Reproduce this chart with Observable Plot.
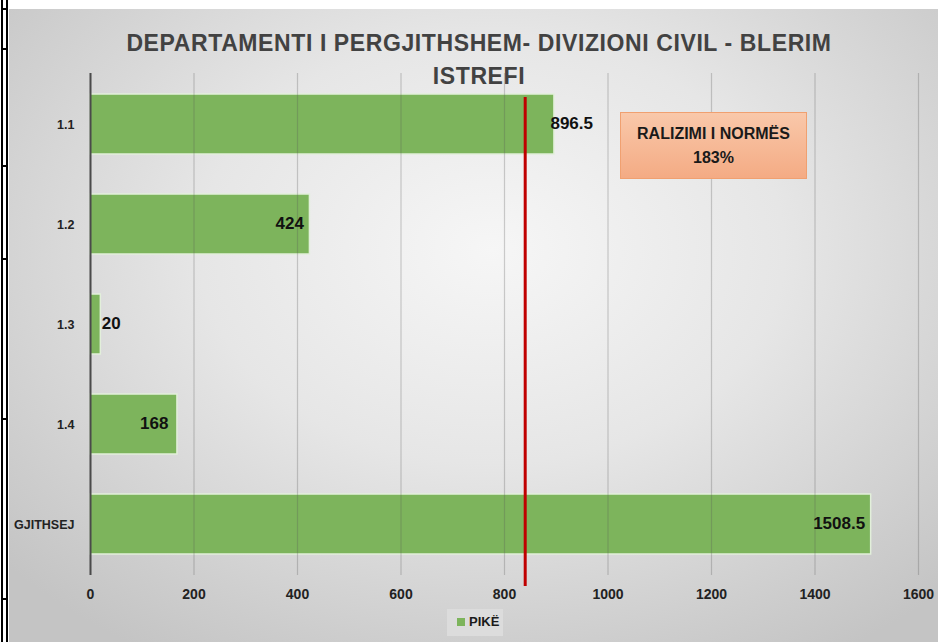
<!DOCTYPE html>
<html>
<head>
<meta charset="utf-8">
<script src="https://cdn.jsdelivr.net/npm/d3@7"></script>
<script src="https://cdn.jsdelivr.net/npm/@observablehq/plot@0.6"></script>
<style>
  html, body { margin: 0; padding: 0; background: #fff; }
  #wrap { position: relative; width: 938px; height: 642px; overflow: hidden; background: #fff; }
  #bg { position: absolute; left: 9px; top: 9px; right: 0; bottom: 0;
        background: radial-gradient(ellipse 70% 75% at 52% 38%, #f6f6f6 0%, #e6e6e6 45%, #cdcdcd 85%, #c4c4c4 100%); }
  #chart { position: absolute; left: 0; top: 0; }
  #title { position: absolute; left: 0; width: 958px; top: 27px; text-align: center;
           font-family: "Liberation Sans", Arial, sans-serif; font-weight: bold;
           font-size: 23px; letter-spacing: 0.6px; line-height: 33px; color: #424242; }
  #note { position: absolute; left: 620px; top: 112px; width: 187px; height: 67px;
          background: linear-gradient(#f9c8aa, #f4ab84); border: 1px solid #f0a070;
          font-family: "Liberation Sans", Arial, sans-serif; font-weight: bold; font-size: 16px;
          color: #1a1a1a; text-align: center; line-height: 24px; box-sizing: border-box; padding-top: 9px; }
  #legend { position: absolute; left: 447px; top: 609px; width: 56px; height: 27px; background: #dcdcdc;
            font-family: "Liberation Sans", Arial, sans-serif; font-weight: bold; font-size: 13px; color: #1a1a1a; }
  #legend span.sw { position: absolute; left: 10px; top: 9px; width: 8px; height: 8px; background: #7db45c; }
  #legend span.tx { position: absolute; left: 22px; top: 5px; }
  .edge { position: absolute; background: #000; }
</style>
</head>
<body>
<div id="wrap">
  <div id="bg"></div>
  <div class="edge" style="left:1px;top:0;width:2px;height:642px"></div>
  <div class="edge" style="left:6px;top:0;width:2px;height:642px"></div>
  <div id="chart"></div>
  <div id="title">DEPARTAMENTI I PERGJITHSHEM- DIVIZIONI CIVIL - BLERIM<br>ISTREFI</div>
  <div id="note">RALIZIMI I NORMËS<br>183%</div>
  <div id="legend"><span class="sw"></span><span class="tx">PIKË</span></div>
</div>
<script>
// ---- data ----
const categories = ["1.1", "1.2", "1.3", "1.4", "GJITHSEJ"];
const values = [896.5, 424, 20, 168, 1508.5];
const labels = ["896.5", "424", "20", "168", "1508.5"];
const xTicks = [0, 200, 400, 600, 800, 1000, 1200, 1400, 1600];
const normValue = [840];
const edgeLines = [8, 48, 165, 258, 418, 598];

// label placement (layout only): [anchor, dx]
const placement = {"1.1": ["start", -4], "1.2": ["end", -6], "1.3": ["start", 1], "1.4": ["end", -9], "GJITHSEJ": ["end", -6]};

const data = categories.map((c, i) => ({cat: c, val: values[i], label: labels[i]}));

// decorative left frame segments
const wrap = document.getElementById("wrap");
edgeLines.forEach(y => {
  const d = document.createElement("div");
  d.className = "edge";
  d.style.cssText = `left:1px;top:${y}px;width:7px;height:2px`;
  wrap.appendChild(d);
});

const labelMarks = categories.map(c => Plot.text(data.filter(d => d.cat === c), {
  y: "cat", x: "val", text: "label",
  textAnchor: placement[c][0], dx: placement[c][1], dy: -1,
  fontSize: 17, fontWeight: "bold", fill: "#111"
}));

const chart = Plot.plot({
  width: 938,
  height: 642,
  marginLeft: 90,
  marginRight: 20,
  marginTop: 73,
  marginBottom: 67,
  style: {background: "transparent", color: "#222", fontFamily: "'Liberation Sans', Arial, sans-serif", overflow: "visible"},
  x: {domain: [0, 1600], label: null},
  y: {domain: categories, paddingInner: 0.4, paddingOuter: 0.2, label: null},
  marks: [
    Plot.barX(data, {y: "cat", x: "val", fill: "#7db45c", stroke: "#e2efda", strokeWidth: 1.5}),
    Plot.gridX(xTicks, {stroke: "#555", strokeOpacity: 0.28, strokeWidth: 1.2}),
    Plot.ruleX([0], {stroke: "#4a4a4a", strokeWidth: 2}),
    Plot.ruleX(normValue, {stroke: "#c00000", strokeWidth: 3, insetTop: 24, insetBottom: -11}),
    ...labelMarks,
    Plot.axisX({ticks: xTicks, tickSize: 0, tickPadding: 14, fontSize: 14, fontWeight: "bold", label: null, tickFormat: d => String(d)}),
    Plot.axisY({tickSize: 0, tickPadding: 16, fontSize: 12.5, fontWeight: "bold", label: null})
  ]
});
document.getElementById("chart").appendChild(chart);
</script>
</body>
</html>
